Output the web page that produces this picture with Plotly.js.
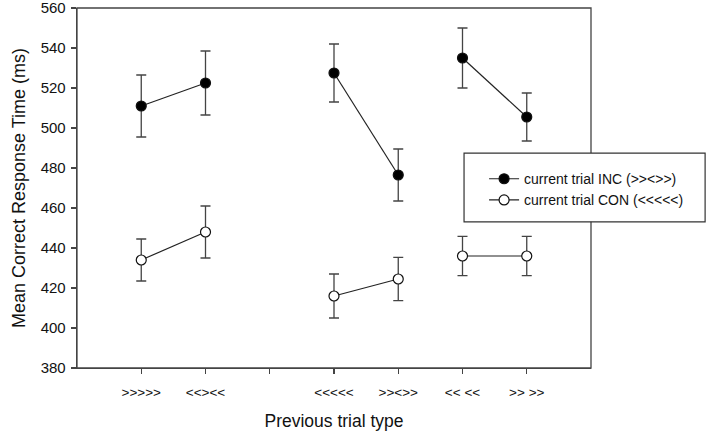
<!DOCTYPE html>
<html>
<head>
<meta charset="utf-8">
<script src="https://cdn.plot.ly/plotly-3.0.1.min.js"></script>
<style>
  body { margin: 0; background: #fff; }
  #chart { width: 709px; height: 442px; }
</style>
</head>
<body>
<div id="chart"></div>
<script>
  // tick positions and labels (slot 3 is an empty gap)
  var tickPos = [1, 2, 3, 4, 5, 6, 7];
  var tickLabels = ['>>>>>', '<<><<', '', '<<<<<', '>><>>', '<< <<', '>> >>'];

  // each pair of conditions is drawn as its own connected segment
  var pairs = [[1, 2], [4, 5], [6, 7]];

  var incMean = [511, 522.5, 527.5, 476.5, 535, 505.5];
  var incErr  = [15.5, 16, 14.5, 13, 15, 12];
  var conMean = [434, 448, 416, 424.5, 436, 436];
  var conErr  = [10.5, 13, 11, 10.8, 9.8, 9.8];

  var font = '"Liberation Sans", Arial, sans-serif';

  /* ---------- build traces: one per pair, legend only on first ---------- */
  function makeTraces(mean, err, name, fill) {
    var out = [];
    for (var p = 0; p < pairs.length; p++) {
      out.push({
        x: pairs[p],
        y: [mean[p * 2], mean[p * 2 + 1]],
        error_y: {
          type: 'data',
          array: [err[p * 2], err[p * 2 + 1]],
          color: '#444',
          thickness: 1.3,
          width: 5
        },
        type: 'scatter',
        mode: 'lines+markers',
        name: name,
        legendgroup: name,
        showlegend: p === 0,
        line: { color: '#222', width: 1.2 },
        marker: { size: 10, color: fill, line: { color: '#111', width: 1.2 } }
      });
    }
    return out;
  }

  var data = makeTraces(incMean, incErr, 'current trial INC (>><>>)', '#000')
    .concat(makeTraces(conMean, conErr, 'current trial CON (<<<<<)', '#fff'));

  var layout = {
    width: 709,
    height: 442,
    margin: { l: 77, r: 118, t: 8, b: 74 },
    paper_bgcolor: '#fff',
    plot_bgcolor: '#fff',
    font: { family: font, color: '#111' },
    xaxis: {
      range: [0, 8],
      tickvals: tickPos,
      ticktext: tickLabels,
      ticks: 'outside',
      ticklen: 5,
      tickwidth: 1.3,
      tickcolor: '#444',
      ticklabelstandoff: 6,
      tickfont: { size: 13.5, family: font, color: '#111' },
      showline: true,
      linecolor: '#444',
      linewidth: 1.3,
      showgrid: false,
      zeroline: false,
      title: { text: 'Previous trial type', font: { size: 17.5, family: font }, standoff: 16 }
    },
    yaxis: {
      range: [380, 560],
      dtick: 20,
      ticks: 'outside',
      ticklen: 5,
      tickwidth: 1.3,
      tickcolor: '#444',
      ticklabeloverflow: 'allow',
      ticklabelstandoff: 2,
      tickfont: { size: 15, family: font, color: '#111' },
      showline: true,
      linecolor: '#444',
      linewidth: 1.3,
      showgrid: false,
      zeroline: false,
      title: { text: 'Mean Correct Response Time (ms)', font: { size: 18, family: font }, standoff: 10 }
    },
    // plot frame and the legend box
    shapes: [
      {
        type: 'rect', xref: 'paper', yref: 'paper', x0: 0, x1: 1, y0: 0, y1: 1,
        line: { color: '#444', width: 1.3 }, layer: 'below'
      },
      {
        type: 'rect', xref: 'paper', yref: 'paper', x0: 0.753, x1: 1.222, y0: 0.406, y1: 0.597,
        line: { color: '#333', width: 1.2 }, fillcolor: '#fff', layer: 'above'
      }
    ],
    legend: {
      x: 0.792,
      y: 0.569,
      xanchor: 'left',
      yanchor: 'top',
      bgcolor: 'rgba(0,0,0,0)',
      borderwidth: 0,
      font: { size: 14, family: font, color: '#111' },
      tracegroupgap: 0
    }
  };

  Plotly.newPlot('chart', data, layout, { displayModeBar: false, staticPlot: true });
</script>
</body>
</html>
